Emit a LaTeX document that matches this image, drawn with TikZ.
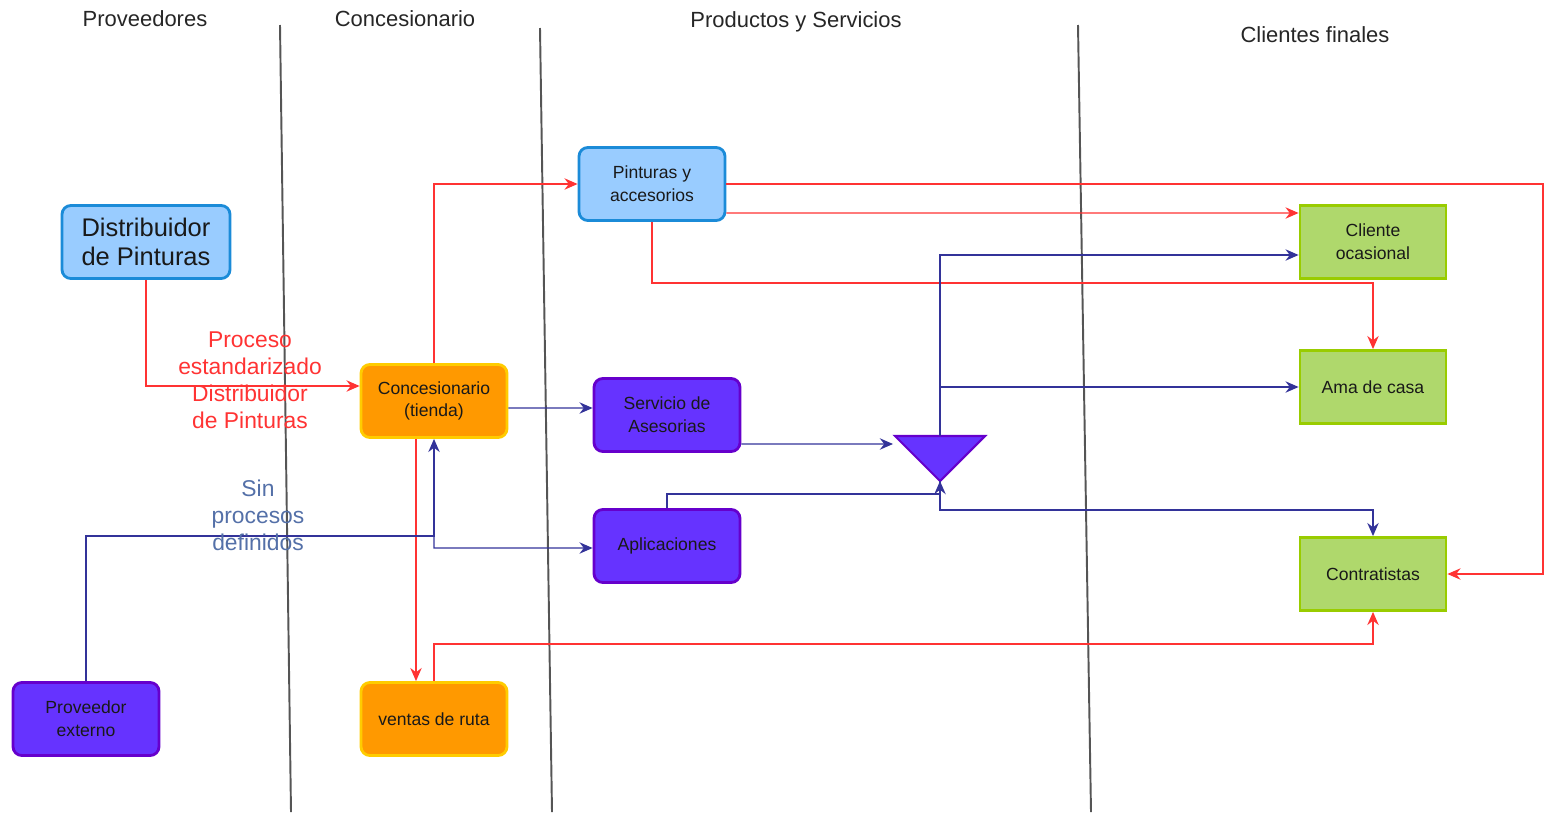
\documentclass[tikz,border=0pt]{standalone}
\usepackage{fontspec}
\setmainfont{Liberation Sans}
\usetikzlibrary{arrows.meta, positioning, calc}
\definecolor{LBf}{HTML}{99CCFF}
\definecolor{LBd}{HTML}{1B8BD8}
\definecolor{ORf}{HTML}{FF9900}
\definecolor{ORd}{HTML}{FFCC00}
\definecolor{PUf}{HTML}{6633FF}
\definecolor{PUd}{HTML}{6600CC}
\definecolor{GRf}{HTML}{AFD86C}
\definecolor{GRd}{HTML}{99CC00}
\definecolor{RL}{HTML}{FF3333}
\definecolor{BL}{HTML}{333399}
\definecolor{BT}{HTML}{5470A8}
\definecolor{LN}{HTML}{555555}

\begin{document}
\begin{tikzpicture}[x=0.02cm, y=-0.02cm,
  hdr/.style={font=\fontsize{12.5}{15}\selectfont, text=black!85},
  box/.style={draw=#1, line width=1.6pt, minimum width=2.92cm, minimum height=1.46cm,
              align=center, font=\fontsize{10}{13}\selectfont, text=black!90},
  bluebox/.style={box=LBd, fill=LBf, rounded corners=5pt},
  orbox/.style={box=ORd, fill=ORf, rounded corners=5pt},
  purbox/.style={box=PUd, fill=PUf, rounded corners=5pt},
  grbox/.style={box=GRd, fill=GRf},
  lane/.style={draw=LN, line width=1.1pt},
  rarr/.style={-{Stealth[length=7.5pt, width=6.5pt, inset=2.5pt]}, draw=RL, line width=0.8pt},
  barr/.style={-{Stealth[length=7.5pt, width=6.5pt, inset=2.5pt]}, draw=BL, line width=0.8pt},
  lbl/.style={align=center, font=\fontsize{13}{15.3}\selectfont}
]
\useasboundingbox (0,0) rectangle (1545,812);

% lanes
\draw[lane] (280,25) -- (291,812);
\draw[lane] (540,28) -- (552,812);
\draw[lane] (1078,25) -- (1091,812);

\node[hdr] (hprov) at (145,19) {Proveedores};
\node[hdr] (hconc) at (405,19) {Concesionario};
\node[hdr] (hprod) at (796,22) {Productos y Servicios};
\node[hdr] (hcli)  at (1315,35) {Clientes finales};

% boxes
\node[bluebox, minimum width=3.36cm, font=\fontsize{14.5}{16.5}\selectfont] (dist) at (146,242) {Distribuidor\\de Pinturas};
\node[orbox]  (conc)  at (434,401)  {Concesionario\\(tienda)};
\node[orbox]  (ruta)  at (434,719)  {ventas de ruta};
\node[purbox] (prov)  at (86,719)   {Proveedor\\externo};
\node[bluebox](pint)  at (652,184)  {Pinturas y\\accesorios};
\node[purbox] (serv)  at (667,415)  {Servicio de\\Asesorias};
\node[purbox] (aplic) at (667,546)  {Aplicaciones};
\node[grbox]  (ocas)  at (1373,242) {Cliente\\ocasional};
\node[grbox]  (ama)   at (1373,387) {Ama de casa};
\node[grbox]  (contr) at (1373,574) {Contratistas};

% merge triangle
\coordinate (tl) at (895,436);
\coordinate (tr) at (985,436);
\coordinate (tb) at (940,481);
\coordinate (tm) at (940,436);
\coordinate (tin) at (893,444);
\filldraw[fill=PUf, draw=PUd, line width=1.2pt] (tl) -- (tr) -- (tb) -- cycle;

\coordinate (jA) at (434,536);
\coordinate (redge) at (1543,185);

% red flows
\draw[rarr] (dist.south) |- ([yshift=0.3cm]conc.west);
\draw[rarr] (conc.north) |- (pint.west);
\draw[rarr] (pint.east) -- (pint.east -| redge) |- (contr.east);
\draw[rarr] ([yshift=-0.58cm]pint.east) -- ([yshift=0.58cm]ocas.west);
\draw[rarr] (pint.south) -- ++(0,61) -| (ama.north);
\draw[rarr] ([xshift=-0.36cm]conc.south) -- ([xshift=-0.36cm]ruta.north);
\draw[rarr] (ruta.north) -- ++(0,-37) -| (contr.south);

% blue flows
\draw[barr] ([yshift=-0.14cm]conc.east) -- ([yshift=0.14cm]serv.west);
\draw[barr] (prov.north) |- (jA) -- (conc.south);
\draw[barr] (jA) -- ++(0,12) -- ([yshift=-0.04cm]aplic.west);
\draw[barr] ([yshift=-0.58cm]serv.east) -- (tin);
\draw[barr] (aplic.north) -- ++(0,-14) -| (tb);
\draw[barr] (tb) -- ++(0,29) -| (contr.north);
\draw[barr] (tm) |- ([yshift=-0.26cm]ocas.west);
\draw[barr] (tm |- ama.west) -- (ama.west);

% labels
\node[lbl, text=RL] (lproc) at (250,380) {Proceso\\estandarizado\\Distribuidor\\de Pinturas};
\node[lbl, text=BT] (lsin)  at (258,515) {Sin\\procesos\\definidos};
\end{tikzpicture}
\end{document}
